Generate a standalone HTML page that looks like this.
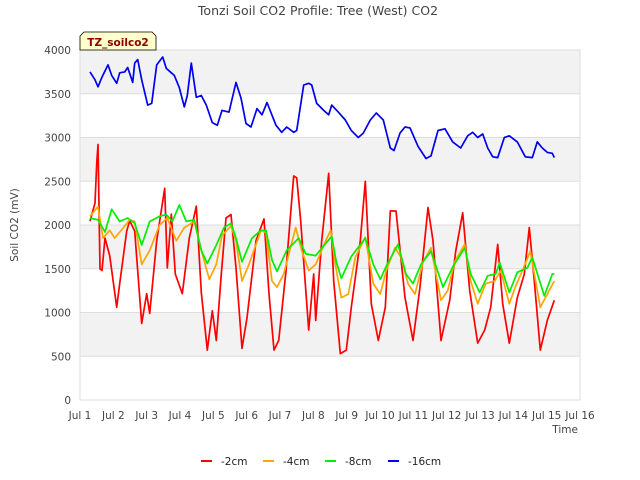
<!DOCTYPE html>
<html><head><meta charset="utf-8"><style>
body{margin:0;background:#fff;}
svg{display:block;font-family:"DejaVu Sans","Liberation Sans",sans-serif;}
</style></head><body>
<svg id="chart" width="640" height="480">
<text x="318" y="15" text-anchor="middle" font-size="12.5" fill="#444">Tonzi Soil CO2 Profile: Tree (West) CO2</text>
<g id="bands"></g>
<g id="grid"></g>
<g id="yticks"></g>
<g id="xticks"></g>
<g id="series"></g>
<rect x="80" y="50" width="500" height="350" fill="none" stroke="#ddd"/>
<text transform="translate(18,225) rotate(-90)" text-anchor="middle" font-size="10.5" fill="#444">Soil CO2 (mV)</text>
<text x="578" y="433" text-anchor="end" font-size="10.5" fill="#444">Time</text>
<g>
<path d="M80,50 L80,36 L84,32 L152,32 L156,36 L156,50 Z" fill="#ffffcc" stroke="#000" stroke-width="0.8"/>
<text x="118" y="46" text-anchor="middle" font-size="10.5" font-weight="bold" fill="#8b0000">TZ_soilco2</text>
</g>
<g id="legend"></g>
</svg>
<script>
const yTicks=[0,500,1000,1500,2000,2500,3000,3500,4000];
const xTickLabels=["Jul 1","Jul 2","Jul 3","Jul 4","Jul 5","Jul 6","Jul 7","Jul 8","Jul 9","Jul 10","Jul 11","Jul 12","Jul 13","Jul 14","Jul 15","Jul 16"];
const seriesNames=["-2cm","-4cm","-8cm","-16cm"];
const seriesColors=["#ff0000","#ffa500","#00ee00","#0000ee"];
const t2=[0.30,0.45,0.50,0.54,0.60,0.66,0.75,0.89,1.10,1.19,1.40,1.49,1.64,1.85,2.00,2.09,2.30,2.54,2.62,2.74,2.86,3.07,3.28,3.49,3.64,3.82,3.97,4.09,4.24,4.38,4.53,4.68,4.86,5.01,5.28,5.52,5.67,5.82,5.96,6.17,6.41,6.50,6.62,6.86,7.01,7.07,7.25,7.46,7.61,7.81,7.99,8.14,8.41,8.56,8.74,8.95,9.16,9.31,9.48,9.75,9.99,10.20,10.44,10.59,10.83,11.09,11.27,11.48,11.69,11.93,12.14,12.32,12.53,12.68,12.88,13.12,13.33,13.48,13.63,13.81,14.02,14.23];
const v2=[2045,2250,2700,2920,1500,1480,1850,1650,1060,1330,1930,2050,1930,875,1215,990,1820,2420,1510,2125,1440,1215,1850,2215,1230,570,1020,680,1440,2080,2120,1510,590,940,1820,2070,1215,570,680,1440,2560,2540,2045,800,1440,910,1820,2590,1360,530,570,1060,1820,2500,1100,680,1060,2160,2160,1170,680,1290,2200,1820,680,1140,1700,2140,1250,650,800,1060,1780,1100,650,1170,1440,1970,1360,570,910,1140];
const t4=[0.30,0.54,0.69,0.89,1.04,1.28,1.49,1.64,1.85,2.09,2.39,2.62,2.89,3.13,3.43,3.67,3.88,4.09,4.26,4.53,4.68,4.86,5.07,5.43,5.58,5.76,5.91,6.11,6.47,6.65,6.86,7.07,7.37,7.52,7.66,7.84,8.05,8.26,8.56,8.80,9.01,9.19,9.45,9.63,9.84,10.05,10.29,10.53,10.83,11.03,11.24,11.54,11.72,11.93,12.17,12.44,12.62,12.88,13.06,13.33,13.51,13.81,14.02,14.23];
const v4=[2100,2210,1850,1940,1850,1960,2060,2040,1550,1710,2000,2080,1820,1970,2040,1670,1380,1550,1880,1990,1820,1360,1550,1940,1910,1360,1290,1440,1970,1710,1480,1550,1820,1940,1550,1170,1210,1630,1860,1330,1210,1480,1740,1630,1330,1210,1580,1740,1140,1250,1580,1780,1360,1100,1330,1360,1480,1100,1290,1530,1700,1060,1210,1360];
const t8=[0.30,0.54,0.75,0.95,1.19,1.43,1.64,1.85,2.09,2.39,2.59,2.77,2.98,3.19,3.43,3.64,3.82,4.09,4.32,4.53,4.68,4.86,5.16,5.43,5.58,5.76,5.91,6.20,6.56,6.77,7.07,7.37,7.55,7.69,7.84,8.14,8.56,8.80,9.01,9.19,9.54,9.78,9.99,10.23,10.53,10.89,11.18,11.54,11.72,11.99,12.23,12.47,12.59,12.88,13.12,13.42,13.57,13.93,14.17,14.23];
const v8=[2080,2060,1920,2180,2040,2080,2020,1770,2040,2100,2120,2040,2230,2040,2060,1710,1560,1770,1970,2020,1850,1580,1850,1940,1940,1600,1470,1710,1850,1670,1650,1790,1870,1580,1390,1640,1850,1550,1380,1530,1780,1440,1330,1550,1700,1290,1520,1740,1440,1230,1420,1440,1570,1230,1460,1510,1630,1190,1440,1440];
const t16=[0.30,0.45,0.54,0.66,0.84,0.95,1.10,1.19,1.34,1.43,1.58,1.64,1.73,1.85,2.03,2.15,2.30,2.48,2.59,2.74,2.83,2.98,3.13,3.22,3.34,3.49,3.64,3.79,3.97,4.12,4.26,4.47,4.68,4.83,4.98,5.13,5.31,5.46,5.61,5.88,6.05,6.20,6.41,6.50,6.71,6.86,6.95,7.10,7.31,7.46,7.55,7.75,7.96,8.14,8.35,8.50,8.71,8.89,9.10,9.31,9.42,9.60,9.75,9.90,10.14,10.38,10.53,10.74,10.95,11.18,11.42,11.63,11.78,11.93,12.08,12.23,12.38,12.53,12.73,12.88,13.12,13.36,13.57,13.72,13.87,14.02,14.17,14.23];
const v16=[3750,3660,3580,3690,3830,3710,3620,3740,3750,3800,3630,3850,3890,3660,3370,3390,3830,3920,3790,3740,3710,3570,3350,3480,3850,3460,3480,3370,3170,3140,3310,3290,3630,3450,3160,3120,3330,3260,3400,3140,3060,3120,3060,3080,3600,3620,3600,3390,3310,3260,3370,3290,3200,3080,3000,3050,3200,3280,3200,2880,2850,3050,3120,3110,2900,2760,2790,3080,3100,2950,2880,3020,3060,3000,3040,2880,2780,2770,3000,3020,2950,2780,2770,2950,2880,2830,2820,2770];
const seriesT=[t2,t4,t8,t16];
const seriesV=[v2,v4,v8,v16];

const NS="http://www.w3.org/2000/svg";
const X0=80,X1=580,Y0=400,Y1=50;
function xs(d){return X0+(d/15)*(X1-X0);}
function ys(v){return Y0-(v/4000)*(Y0-Y1);}
function mk(tag,attrs,parent){const e=document.createElementNS(NS,tag);for(const k in attrs)e.setAttribute(k,attrs[k]);parent.appendChild(e);return e;}
const bands=document.getElementById('bands'),grid=document.getElementById('grid'),yt=document.getElementById('yticks'),xt=document.getElementById('xticks'),ser=document.getElementById('series'),leg=document.getElementById('legend');
for(let i=0;i<yTicks.length-1;i++){
  if(i%2===1){
    const r=mk('rect',{x:X0,y:ys(yTicks[i+1]),width:X1-X0,height:ys(yTicks[i])-ys(yTicks[i+1]),fill:'#f2f2f2'},bands);
    
    
  }
}
yTicks.forEach(v=>{
  const l=mk('line',{x1:X0,x2:X1,y1:ys(v),y2:ys(v),stroke:'#ddd','stroke-width':1},grid);
  
  
  const t=mk('text',{x:X0-9,y:ys(v)+4,'text-anchor':'end','font-size':10.5,fill:'#444'},yt);
  t.textContent=v;
  
  
});
xTickLabels.forEach((s,i)=>{
  const t=mk('text',{x:xs(i),y:419,'text-anchor':'middle','font-size':10.5,fill:'#444'},xt);
  t.textContent=s;
  
  
});
seriesT.forEach((T,si)=>{
  const V=seriesV[si];
  let d='';
  for(let i=0;i<T.length;i++)d+=(i?'L':'M')+xs(T[i]).toFixed(1)+','+ys(V[i]).toFixed(1);
  const p=mk('path',{d:d,fill:'none',stroke:seriesColors[si],'stroke-width':1.7,'stroke-linejoin':'round'},ser);
  
  
});
const legX=[201,263,325,388];
seriesNames.forEach((n,i)=>{
  const g=mk('g',{},leg);
  
  
  mk('line',{x1:legX[i],x2:legX[i]+11,y1:461,y2:461,stroke:seriesColors[i],'stroke-width':2},g);
  const t=mk('text',{x:legX[i]+20,y:465,'font-size':10.5,fill:'#222'},g);
  t.textContent=n;
});
</script>
</body></html>
